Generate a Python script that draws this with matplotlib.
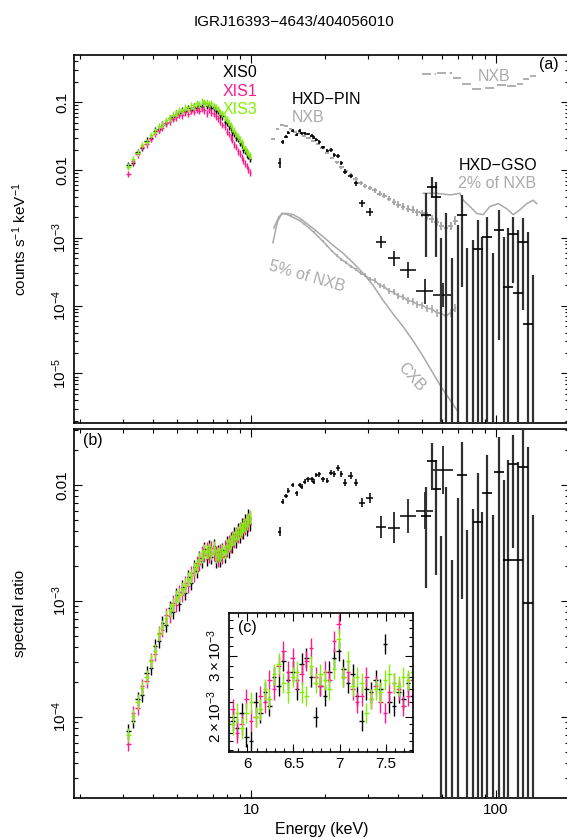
import numpy as np
import matplotlib
matplotlib.use('Agg')
import matplotlib.pyplot as plt
from matplotlib.ticker import FixedLocator, FixedFormatter, NullFormatter, LogLocator, MultipleLocator

plt.rcParams['font.family'] = ['Liberation Sans', 'DejaVu Sans']
plt.rcParams['mathtext.fontset'] = 'custom'
plt.rcParams['mathtext.rm'] = 'Liberation Sans'
plt.rcParams['mathtext.it'] = 'Liberation Sans:italic'
plt.rcParams['mathtext.bf'] = 'Liberation Sans:bold'

nan = float('nan')

# ---------------- data ----------------
XIS_E = [3.15, 3.30, 3.45, 3.60, 3.75, 3.90, 4.05, 4.20, 4.35, 4.50,
         4.65, 4.80, 4.95, 5.10, 5.25, 5.40, 5.55, 5.70, 5.85, 6.00,
         6.15, 6.30, 6.45, 6.60, 6.75, 6.90, 7.05, 7.20, 7.35, 7.50,
         7.65, 7.80, 7.95, 8.10, 8.25, 8.40, 8.55, 8.70, 8.85, 9.00,
         9.15, 9.30, 9.45, 9.60, 9.75, 9.90]
XIS_HALF_WIDTH = 0.075
XIS_REL_ERR = 0.12
XIS_RATIO_REL_ERR = 0.15

XIS0_CTS = [0.0118, 0.0128, 0.0185, 0.0215, 0.0270, 0.0300, 0.0380, 0.0400, 0.0470, 0.0500,
            0.0580, 0.0600, 0.0680, 0.0690, 0.0750, 0.0740, 0.0810, 0.0780, 0.0860, 0.0830,
            0.0890, 0.0850, 0.0970, 0.0880, 0.0910, 0.0830, 0.0840, 0.0750, 0.0740, 0.0640,
            0.0620, 0.0520, 0.0500, 0.0440, 0.0420, 0.0360, 0.0350, 0.0300, 0.0290, 0.0250,
            0.0240, 0.0200, 0.0195, 0.0170, 0.0165, 0.0145]
XIS1_CTS = [0.0088, 0.0135, 0.0170, 0.0220, 0.0240, 0.0290, 0.0340, 0.0390, 0.0420, 0.0490,
            0.0520, 0.0570, 0.0600, 0.0660, 0.0640, 0.0710, 0.0680, 0.0750, 0.0720, 0.0780,
            0.0740, 0.0800, 0.0760, 0.0690, 0.0770, 0.0700, 0.0680, 0.0620, 0.0580, 0.0520,
            0.0460, 0.0430, 0.0370, 0.0340, 0.0300, 0.0280, 0.0240, 0.0220, 0.0190, 0.0175,
            0.0155, 0.0140, 0.0125, 0.0115, 0.0102, 0.0092]
XIS3_CTS = [0.0112, 0.0145, 0.0180, 0.0235, 0.0260, 0.0330, 0.0370, 0.0440, 0.0470, 0.0550,
            0.0580, 0.0660, 0.0680, 0.0760, 0.0740, 0.0840, 0.0800, 0.0900, 0.0870, 0.0980,
            0.0920, 0.1050, 0.0970, 0.1000, 0.0940, 0.0980, 0.0880, 0.0850, 0.0800, 0.0720,
            0.0680, 0.0600, 0.0560, 0.0500, 0.0460, 0.0410, 0.0380, 0.0340, 0.0310, 0.0280,
            0.0260, 0.0230, 0.0210, 0.0190, 0.0175, 0.0165]

XIS0_RATIO = [7.5e-5, 0.92e-4, 1.42e-4, 1.55e-4, 2.4e-4, 2.65e-4, 4.1e-4, 4.5e-4, 6.5e-4, 6.2e-4,
              8.7e-4, 8.0e-4, 1.12e-3, 0.95e-3, 1.32e-3, 1.18e-3, 1.6e-3, 1.42e-3, 1.95e-3, 1.8e-3,
              2.35e-3, 2.2e-3, 2.8e-3, 2.3e-3, 2.9e-3, 2.4e-3, 2.95e-3, 2.2e-3, 2.65e-3, 2.25e-3,
              2.75e-3, 2.45e-3, 3.15e-3, 2.7e-3, 3.45e-3, 3.0e-3, 3.75e-3, 3.3e-3, 4.1e-3, 3.6e-3,
              4.5e-3, 3.9e-3, 4.9e-3, 4.2e-3, 5.4e-3, 4.6e-3]
XIS1_RATIO = [5.8e-5, 1.08e-4, 1.2e-4, 1.85e-4, 2.05e-4, 3.1e-4, 3.5e-4, 5.3e-4, 5.6e-4, 7.5e-4,
              7.4e-4, 9.7e-4, 0.93e-3, 1.19e-3, 1.12e-3, 1.43e-3, 1.35e-3, 1.74e-3, 1.68e-3, 2.12e-3,
              2.1e-3, 2.6e-3, 2.5e-3, 2.8e-3, 2.45e-3, 2.85e-3, 2.55e-3, 2.6e-3, 2.25e-3, 2.7e-3,
              2.4e-3, 2.9e-3, 2.75e-3, 3.2e-3, 3.0e-3, 3.5e-3, 3.3e-3, 3.8e-3, 3.6e-3, 4.15e-3,
              3.95e-3, 4.55e-3, 4.25e-3, 4.85e-3, 4.55e-3, 5.2e-3]
XIS3_RATIO = [7.0e-5, 1.02e-4, 1.36e-4, 1.78e-4, 2.2e-4, 3.05e-4, 3.7e-4, 5.2e-4, 6.0e-4, 7.2e-4,
              8.3e-4, 9.2e-4, 1.08e-3, 1.12e-3, 1.28e-3, 1.36e-3, 1.55e-3, 1.65e-3, 1.9e-3, 2.0e-3,
              2.3e-3, 2.45e-3, 2.7e-3, 2.65e-3, 2.75e-3, 2.6e-3, 2.85e-3, 2.45e-3, 2.55e-3, 2.5e-3,
              2.7e-3, 2.65e-3, 2.95e-3, 3.05e-3, 3.2e-3, 3.4e-3, 3.5e-3, 3.7e-3, 3.85e-3, 4.05e-3,
              4.2e-3, 4.4e-3, 4.55e-3, 4.75e-3, 4.95e-3, 5.25e-3]

# inset (c): Fe-K region, ratio in units of 1e-3
INSET_E = [5.84, 5.89, 5.94, 5.99, 6.04, 6.09, 6.14, 6.19, 6.24, 6.29,
           6.34, 6.39, 6.44, 6.49, 6.54, 6.59, 6.64, 6.69, 6.74, 6.79,
           6.84, 6.89, 6.94, 6.99, 7.04, 7.09, 7.14, 7.19, 7.24, 7.29,
           7.34, 7.39, 7.44, 7.49, 7.54, 7.59, 7.64, 7.69, 7.74, 7.79]
INSET_HALF_WIDTH = 0.025
INSET_REL_ERR = 0.07
XIS0_FE = [1.95, 1.85, 2.05, 1.75, 1.70, 2.20, 2.05, 2.35, 2.15, 2.60,
           2.45, 2.90, 2.55, 2.70, 2.40, 2.85, 2.95, 2.60, 2.00, 2.45,
           2.30, 2.70, 2.95, 3.10, 2.75, 2.50, 2.65, 2.30, 1.95, 2.40,
           2.35, 2.55, 2.40, 3.25, 2.20, 2.15, 2.35, 2.25, 2.50, 2.30]
XIS1_FE = [2.10, 1.80, 1.90, 2.25, 1.95, 2.00, 2.30, 2.20, 2.55, 2.40,
           2.80, 3.10, 2.70, 2.95, 2.55, 2.65, 2.90, 3.15, 2.60, 2.45,
           2.70, 2.55, 3.30, 3.70, 2.60, 2.70, 2.40, 2.20, 2.30, 2.60,
           2.25, 2.45, 2.20, 2.05, 2.35, 2.50, 2.40, 2.15, 2.30, 2.55]
XIS3_FE = [1.90, 2.05, 1.85, 2.05, 2.20, 2.00, 2.10, 2.40, 2.25, 2.65,
           2.85, 2.50, 2.35, 2.60, 2.70, 2.35, 2.30, 2.80, 2.50, 2.65,
           2.55, 2.40, 2.75, 3.35, 2.60, 2.90, 2.45, 2.60, 2.50, 2.05,
           2.25, 2.40, 2.35, 2.55, 2.65, 2.50, 2.45, 2.60, 2.55, 2.70]

# HXD-PIN
PIN_E = [13.1, 13.5, 13.9, 14.2, 14.8, 15.35, 15.8, 16.1, 16.6, 17.1,
         17.7, 18.0, 18.5, 19.0, 19.7, 20.5, 21.2, 21.9, 22.7, 23.4,
         24.3, 25.5, 26.8, 28.4, 30.6, 34.1, 38.4, 43.8, 51.3, 61.0]
PIN_XERR = [0.2, 0.2, 0.2, 0.2, 0.25, 0.25, 0.25, 0.25, 0.25, 0.3,
            0.3, 0.3, 0.3, 0.3, 0.35, 0.35, 0.35, 0.35, 0.4, 0.4,
            0.45, 0.5, 0.55, 0.8, 1.0, 1.6, 2.2, 3.3, 4.3, 5.7]
PIN_CTS = [0.0126, 0.0262, 0.0310, 0.0357, 0.0380, 0.0330, 0.0380, 0.0350, 0.0350, 0.0340,
           0.0320, 0.0300, 0.0280, 0.0260, 0.0217, 0.0193, 0.0198, 0.0167, 0.0160, 0.0128,
           0.0095, 0.0082, 0.0064, 0.00324, 0.0024, 8.8e-4, 5.0e-4, 3.37e-4, 1.62e-4, 1.44e-4]
PIN_CTS_RERR = [0.18, 0.07, 0.06, 0.05, 0.05, 0.05, 0.05, 0.05, 0.05, 0.05,
                0.05, 0.05, 0.05, 0.06, 0.06, 0.06, 0.06, 0.07, 0.07, 0.07,
                0.08, 0.08, 0.09, 0.12, 0.14, 0.23, 0.30, 0.32, 0.55, 0.50]
PIN_RATIO = [3.96e-3, 7.2e-3, 8.04e-3, 8.9e-3, 0.0100, 8.5e-3, 0.0100, 9.7e-3, 0.0107, 0.0112,
             0.0112, 0.0107, 0.0122, 0.0124, 0.0112, 0.0109, 0.0128, 0.0124, 0.0141, 0.0124,
             0.0105, 0.0120, 0.0105, 7.04e-3, 7.68e-3, 4.37e-3, 4.3e-3, 5.4e-3, 6.0e-3, 0.0135]
PIN_RATIO_RERR = [0.10, 0.06, 0.05, 0.05, 0.05, 0.05, 0.05, 0.05, 0.05, 0.05,
                  0.05, 0.05, 0.05, 0.05, 0.05, 0.05, 0.05, 0.06, 0.06, 0.06,
                  0.07, 0.07, 0.07, 0.10, 0.10, 0.24, 0.35, 0.40, 0.45, 0.60]

# HXD-GSO (upper end, best value, lower end of each error bar; lower end below axis where bar runs off)
GSO_E = [51.8, 54.6, 56.9, 59.8, 62.8, 65.9, 70.2, 72.9, 76.0, 80.4,
         84.3, 88.0, 92.3, 97.3, 102.8, 107.5, 112.4, 117.3, 123.0, 129.0,
         135.0, 141.4]
GSO_CTS_HI = [4.55e-3, 8.0e-3, 6.7e-3, 9.97e-4, 2.33e-3, 5.06e-4, 1.55e-3, 4.3e-3, 7.1e-4, 9.3e-4,
              1.84e-3, 1.03e-3, 2.03e-3, 6.0e-4, 2.58e-3, 1.03e-3, 1.4e-3, 2.03e-3, 1.31e-3, 1.97e-3,
              1.22e-3, 2.84e-4]
GSO_CTS = [2.18e-3, 5.7e-3, 4.05e-3, nan, nan, nan, nan, 2.18e-3, nan, nan,
           6.8e-4, nan, 1.02e-3, nan, 1.31e-3, nan, 1.87e-4, 1.14e-3, 1.52e-4, 8.8e-4,
           5.4e-5, nan]
GSO_CTS_LO = [5.3e-4, 4.05e-3, 5.3e-4, 1e-7, 1e-7, 1e-7, 1e-7, 1.9e-4, 1e-7, 1e-7,
              1e-7, 1e-7, 1e-7, 1e-7, 3.1e-5, 1e-7, 1e-7, 2.16e-4, 1e-7, 8.6e-5,
              1e-7, 1e-7]
GSO_RATIO_HI = [9.7e-3, 0.0229, 0.0164, 3.6e-3, 9.7e-3, 2.26e-3, 7.7e-3, 0.0236, 4.1e-3, 6.2e-3,
                0.0126, 5.9e-3, 0.0181, 5.5e-3, 0.0261, 0.0110, 0.0164, 0.0270, 0.0159, 0.05,
                0.0214, 5.5e-3]
GSO_RATIO = [5.4e-3, 0.0162, 9.2e-3, nan, nan, nan, nan, 0.0122, nan, nan,
             4.77e-3, nan, 8.5e-3, nan, 0.0130, nan, 2.26e-3, 0.0151, 2.26e-3, 0.0142,
             9.7e-4, nan]
GSO_RATIO_LO = [1.29e-3, 9.4e-3, 1.68e-3, 1e-6, 1e-6, 1e-6, 1e-6, 1.05e-3, 1e-6, 1e-6,
                1e-6, 1e-6, 1e-6, 1e-6, 1e-6, 1e-6, 1e-6, 2.85e-3, 1e-6, 1e-6,
                1e-6, 1e-6]

# PIN non-X-ray background, and 5 % of it
NXB_PIN_E = [12.3, 12.8, 13.35, 13.9, 14.5, 15.1, 15.8, 16.5, 17.2, 18.0,
             18.8, 19.6, 20.5, 21.4, 22.4, 23.4, 24.5, 25.6, 26.8, 28.0,
             29.3, 30.6, 32.0, 33.5, 35.0, 36.6, 38.3, 40.0, 41.8, 43.7,
             45.7, 47.8, 50.0, 52.3, 54.7, 57.2, 59.8, 62.5, 65.3, 68.3]
NXB_PIN_XERR = [0.2, 0.2, 0.25, 0.25, 0.25, 0.3, 0.3, 0.3, 0.35, 0.35,
                0.4, 0.4, 0.4, 0.45, 0.45, 0.5, 0.5, 0.55, 0.6, 0.6,
                0.6, 0.65, 0.7, 0.7, 0.75, 0.8, 0.8, 0.85, 0.9, 0.95,
                1.0, 1.0, 1.1, 1.1, 1.2, 1.2, 1.3, 1.3, 1.4, 1.5]
NXB_PIN = [0.0290, 0.0400, 0.0460, 0.0440, 0.0400, 0.0370, 0.0350, 0.0320, 0.0300, 0.0270,
           0.0240, 0.0210, 0.0180, 0.0152, 0.0130, 0.0110, 0.0096, 0.0085, 0.0074, 0.0065,
           0.0059, 0.0054, 0.0050, 0.0045, 0.0042, 0.0038, 0.0034, 0.0031, 0.0029, 0.0027,
           0.0026, 0.0024, 0.0023, 0.0021, 0.0019, 0.0017, 0.0015, 0.0014, 0.0015, 0.0018]
NXB_PIN_RERR = [0.02, 0.02, 0.02, 0.02, 0.02, 0.02, 0.02, 0.02, 0.03, 0.03,
                0.03, 0.03, 0.04, 0.04, 0.04, 0.05, 0.05, 0.06, 0.06, 0.07,
                0.07, 0.08, 0.08, 0.09, 0.09, 0.10, 0.10, 0.11, 0.11, 0.12,
                0.12, 0.13, 0.13, 0.14, 0.14, 0.15, 0.15, 0.15, 0.15, 0.15]
NXB5_PIN = [8.5e-4, 1.7e-3, 2.3e-3, 2.25e-3, 2.1e-3, 1.95e-3, 1.8e-3, 1.6e-3, 1.42e-3, 1.22e-3,
            1.05e-3, 9.0e-4, 7.6e-4, 6.4e-4, 5.5e-4, 4.8e-4, 4.3e-4, 3.8e-4, 3.45e-4, 3.0e-4,
            2.8e-4, 2.45e-4, 2.35e-4, 2.0e-4, 1.9e-4, 1.65e-4, 1.58e-4, 1.38e-4, 1.35e-4, 1.18e-4,
            1.16e-4, 1.04e-4, 1.02e-4, 9.1e-5, 9.0e-5, 7.9e-5, 7.7e-5, 7.0e-5, 7.9e-5, 9.2e-5]

# cosmic X-ray background in PIN
CXB_E = [12.4, 13.0, 13.55, 14.2, 14.88, 15.8, 16.87, 18.2, 19.7, 21.6, 23.8, 26.1,
         28.7, 31.5, 34.6, 38.0, 41.8, 46.0, 50.5, 55.0, 60.0, 65.0, 70.2]
CXB = [1.4e-3, 2.05e-3, 2.3e-3, 2.28e-3, 2.2e-3, 1.95e-3, 1.64e-3, 1.32e-3, 1.04e-3, 7.8e-4,
       5.9e-4, 4.3e-4, 3.0e-4, 2.0e-4, 1.2e-4, 7.6e-5, 4.9e-5, 3.0e-5, 1.77e-5, 1.05e-5,
       6.2e-6, 4.06e-6, 2.7e-6]

# GSO non-X-ray background (binned) and 2 % of it
NXB_GSO_EDGES = [49.5, 57.3, 66.7, 72.6, 79.8, 90.0, 101.0, 110.9, 121.8, 128.9, 137.4, 146.5]
NXB_GSO = [0.261, 0.270, 0.228, 0.186, 0.157, 0.162, 0.180, 0.174, 0.186, 0.221, 0.244]
NXB2_GSO_E = [50.5, 57.1, 65.0, 71.3, 73.5, 78.3, 83.4, 88.7, 94.4, 102.1, 110.5, 117.6,
              125.3, 133.5, 142.0, 146.6]
NXB2_GSO = [4.55e-3, 4.55e-3, 4.3e-3, 4.55e-3, 3.6e-3, 2.9e-3, 2.3e-3, 2.2e-3, 2.9e-3, 3.2e-3,
            2.7e-3, 2.2e-3, 2.6e-3, 3.2e-3, 3.6e-3, 3.2e-3]

XIS_COLORS = {'XIS0': '#000000', 'XIS1': '#ff1a8c', 'XIS3': '#7ff000'}
GRAY = '#a9a9a9'
GRAY_TXT = '#aaaaaa'

# ---------------- figure ----------------
W, H = 567, 838
fig = plt.figure(figsize=(W / 100, H / 100), dpi=100)


def rect(l, t, r, b):
    return [l / W, 1 - b / H, (r - l) / W, (b - t) / H]


def fx(px):
    return px / W


def fy(py):
    return 1 - py / H


def logerr(vals, rel):
    v = np.asarray(vals, dtype=float)
    r = np.asarray(rel, dtype=float) * np.ones_like(v)
    return [v - v / (1 + r), v * r]


def style(ax):
    ax.tick_params(which='both', direction='in', top=True, right=True,
                   width=0.8, color='black', labelsize=11)
    ax.tick_params(which='major', length=6)
    ax.tick_params(which='minor', length=3.2)
    for s in ax.spines.values():
        s.set_linewidth(1.2)


def log_x(ax, labels):
    ax.set_xscale('log')
    ax.set_xlim(1.895, 198.7)
    ax.xaxis.set_major_locator(FixedLocator([10, 100]))
    ax.xaxis.set_minor_locator(LogLocator(base=10, subs=range(2, 10), numticks=30))
    ax.xaxis.set_minor_formatter(NullFormatter())
    if labels:
        ax.xaxis.set_major_formatter(FixedFormatter(['10', '100']))
    else:
        ax.tick_params(labelbottom=False)


def log_y(ax, ticks, labels):
    ax.set_yscale('log')
    ax.yaxis.set_major_locator(FixedLocator(ticks))
    ax.yaxis.set_major_formatter(FixedFormatter(labels))
    ax.yaxis.set_minor_locator(LogLocator(base=10, subs=range(2, 10), numticks=30))
    ax.yaxis.set_minor_formatter(NullFormatter())
    for t in ax.get_yticklabels():
        t.set_rotation(90)
        t.set_va('center')


ax1 = fig.add_axes(rect(74, 55, 569, 422.7))
ax2 = fig.add_axes(rect(74, 429.3, 569, 797.7))
ax3 = fig.add_axes(rect(229.3, 613.3, 413, 751.7))

for ax in (ax1, ax2, ax3):
    style(ax)

log_x(ax1, False)
log_x(ax2, True)
ax1.set_ylim(1.88e-6, 0.498)
ax2.set_ylim(2.015e-5, 0.0302)
log_y(ax1, [0.1, 0.01, 1e-3, 1e-4, 1e-5],
      ['0.1', '0.01', r'$10^{-3}$', r'$10^{-4}$', r'$10^{-5}$'])
log_y(ax2, [0.01, 1e-3, 1e-4], ['0.01', r'$10^{-3}$', r'$10^{-4}$'])

# ----- panel (a) -----
# backgrounds (gray)
ax1.errorbar(NXB_PIN_E, NXB_PIN, xerr=NXB_PIN_XERR, yerr=logerr(NXB_PIN, NXB_PIN_RERR),
             fmt='none', ecolor=GRAY, elinewidth=1.4, capsize=0, zorder=1)
ax1.plot(NXB_PIN_E, NXB5_PIN, color=GRAY, lw=1.1, zorder=1)
ax1.errorbar(NXB_PIN_E, NXB5_PIN, yerr=logerr(NXB5_PIN, NXB_PIN_RERR),
             fmt='none', ecolor=GRAY, elinewidth=1.2, capsize=0, zorder=1)
ax1.plot(CXB_E, CXB, color=GRAY, lw=1.1, zorder=1)
for lo, hi, v in zip(NXB_GSO_EDGES[:-1], NXB_GSO_EDGES[1:], NXB_GSO):
    ax1.plot([lo * 1.004, hi / 1.004], [v, v], color=GRAY, lw=1.3,
             linestyle=(0, (5, 2)), zorder=1)
ax1.plot(NXB2_GSO_E, NXB2_GSO, color=GRAY, lw=1.1, zorder=1)

# XIS
for name, vals in (('XIS0', XIS0_CTS), ('XIS1', XIS1_CTS), ('XIS3', XIS3_CTS)):
    ax1.errorbar(XIS_E, vals, xerr=XIS_HALF_WIDTH, yerr=logerr(vals, XIS_REL_ERR),
                 fmt='none', ecolor=XIS_COLORS[name], elinewidth=1.0, capsize=0, zorder=3)

# PIN
ax1.errorbar(PIN_E, PIN_CTS, xerr=PIN_XERR, yerr=logerr(PIN_CTS, PIN_CTS_RERR),
             fmt='none', ecolor='black', elinewidth=1.1, capsize=0, zorder=4)
# GSO
ax1.vlines(GSO_E, GSO_CTS_LO, GSO_CTS_HI, colors='#303030', lw=1.6, zorder=4)
ax1.plot(GSO_E, GSO_CTS, ls='none', marker='_', ms=7, mew=1.2, color='black', zorder=5)

# ----- panel (b) -----
for name, vals in (('XIS0', XIS0_RATIO), ('XIS1', XIS1_RATIO), ('XIS3', XIS3_RATIO)):
    ax2.errorbar(XIS_E, vals, xerr=XIS_HALF_WIDTH, yerr=logerr(vals, XIS_RATIO_REL_ERR),
                 fmt='none', ecolor=XIS_COLORS[name], elinewidth=1.0, capsize=0, zorder=3)
ax2.errorbar(PIN_E, PIN_RATIO, xerr=PIN_XERR, yerr=logerr(PIN_RATIO, PIN_RATIO_RERR),
             fmt='none', ecolor='black', elinewidth=1.1, capsize=0, zorder=4)
ax2.vlines(GSO_E, GSO_RATIO_LO, GSO_RATIO_HI, colors='#303030', lw=1.6, zorder=4)
ax2.plot(GSO_E, GSO_RATIO, ls='none', marker='_', ms=7, mew=1.2, color='black', zorder=5)

# ----- inset (c) -----
ax3.set_zorder(10)
ax3.set_facecolor('white')
for name, vals in (('XIS0', XIS0_FE), ('XIS1', XIS1_FE), ('XIS3', XIS3_FE)):
    v = np.asarray(vals) * 1e-3
    ax3.errorbar(INSET_E, v, xerr=INSET_HALF_WIDTH, yerr=logerr(v, INSET_REL_ERR),
                 fmt='none', ecolor=XIS_COLORS[name], elinewidth=1.0, capsize=0)
ax3.set_yscale('log')
ax3.set_xlim(5.805, 7.795)
ax3.set_ylim(1.585e-3, 3.98e-3)
ax3.xaxis.set_major_locator(FixedLocator([6, 6.5, 7, 7.5]))
ax3.xaxis.set_major_formatter(FixedFormatter(['6', '6.5', '7', '7.5']))
ax3.xaxis.set_minor_locator(MultipleLocator(0.1))
ax3.yaxis.set_major_locator(FixedLocator([2e-3, 3e-3]))
ax3.yaxis.set_major_formatter(FixedFormatter([r'$2\times10^{-3}$', r'$3\times10^{-3}$']))
ax3.yaxis.set_minor_locator(FixedLocator([1.6e-3, 1.7e-3, 1.8e-3, 1.9e-3, 2.2e-3, 2.4e-3,
                                          2.6e-3, 2.8e-3, 3.2e-3, 3.4e-3, 3.6e-3, 3.8e-3]))
ax3.yaxis.set_minor_formatter(NullFormatter())
for t in ax3.get_yticklabels():
    t.set_rotation(90)
    t.set_va('center')

# ----- texts -----
fs = 11.5
fig.text(fx(294), fy(22.5), 'IGRJ16393\u22124643/404056010', ha='center', va='center', fontsize=11)
fig.text(fx(223), fy(72.5), 'XIS0', color=XIS_COLORS['XIS0'], ha='left', va='center', fontsize=fs)
fig.text(fx(223), fy(91), 'XIS1', color=XIS_COLORS['XIS1'], ha='left', va='center', fontsize=fs)
fig.text(fx(223), fy(109.5), 'XIS3', color=XIS_COLORS['XIS3'], ha='left', va='center', fontsize=fs)
fig.text(fx(291.7), fy(100), 'HXD\u2212PIN', ha='left', va='center', fontsize=fs)
fig.text(fx(291.7), fy(118), 'NXB', color=GRAY_TXT, ha='left', va='center', fontsize=fs)
fig.text(fx(458.3), fy(165), 'HXD\u2212GSO', ha='left', va='center', fontsize=fs)
fig.text(fx(458.3), fy(183), '2% of NXB', color=GRAY_TXT, ha='left', va='center', fontsize=fs)
fig.text(fx(478), fy(76.7), 'NXB', color=GRAY_TXT, ha='left', va='center', fontsize=fs)
fig.text(fx(549), fy(65), '(a)', ha='center', va='center', fontsize=fs)
fig.text(fx(306.7), fy(276.7), '5% of NXB', color=GRAY_TXT, ha='center', va='center',
         fontsize=fs, rotation=-16, rotation_mode='anchor')
fig.text(fx(411.7), fy(376.7), 'CXB', color=GRAY_TXT, ha='center', va='center',
         fontsize=fs, rotation=-48, rotation_mode='anchor')
fig.text(fx(92.7), fy(440), '(b)', ha='center', va='center', fontsize=fs)
fig.text(fx(247.3), fy(627), '(c)', ha='center', va='center', fontsize=fs, zorder=20)

fig.text(fx(20), fy(239), r'counts s$^{-1}$ keV$^{-1}$', rotation=90, ha='center', va='center', fontsize=11)
fig.text(fx(20), fy(613.5), 'spectral ratio', rotation=90, ha='center', va='center', fontsize=11)
fig.text(fx(322), fy(829), 'Energy (keV)', ha='center', va='center', fontsize=11.5)

fig.savefig('out.png', dpi=100)
